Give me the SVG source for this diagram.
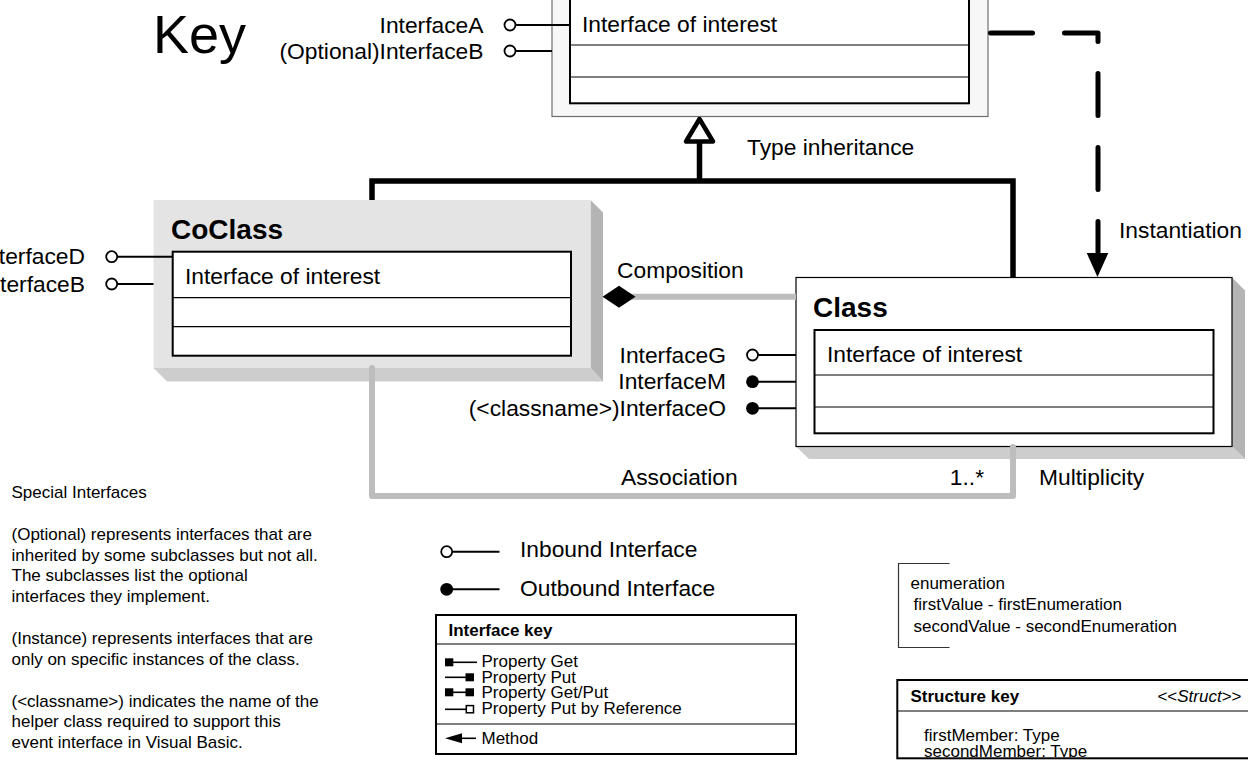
<svg xmlns="http://www.w3.org/2000/svg" width="1248" height="768" viewBox="0 0 1248 768">
<defs>
<style>
text { font-family: "Liberation Sans", Arial, Helvetica, sans-serif; fill: #000; }
.lbl { font-size: 22.8px; }
.lblr { font-size: 22.8px; text-anchor: end; }
.title { font-size: 28px; font-weight: bold; }
.small { font-size: 17px; }
.smallb { font-size: 17px; font-weight: bold; }
.inner { fill: #fff; stroke: #000; stroke-width: 2; }
.div { stroke: #000; stroke-width: 1.2; fill: none; }
.lol { stroke: #000; stroke-width: 2; fill: none; }
.in { fill: #fff; stroke: #000; stroke-width: 1.8; }
.out { fill: #000; }
.shR { fill: #b4b4b4; }
.shB { fill: #cdcdcd; }
.gray { fill: none; stroke: #bdbdbd; stroke-width: 6; stroke-linecap: round; stroke-linejoin: round; }
.thick { fill: none; stroke: #000; stroke-width: 5.5; stroke-linejoin: miter; }
.sq { fill: #000; }
.thin { stroke: #000; stroke-width: 1.6; fill: none; }
</style>
<clipPath id="structClip"><rect x="898" y="681" width="360" height="76.3"/></clipPath>
</defs>
<rect x="0" y="0" width="1248" height="768" fill="#fff"/>

<g id="key-title">
<text x="153" y="53" style="font-size:54px">Key</text>
</g>

<g id="abstract-class">
<rect x="552" y="-40" width="436" height="156.5" fill="#f7f7f7" stroke="#6e6e6e" stroke-width="1.2"/>
<rect class="inner" x="570" y="-30" width="399" height="133.3"/>
<line class="div" x1="570" y1="45" x2="969" y2="45"/>
<line class="div" x1="570" y1="77" x2="969" y2="77"/>
<text class="lbl" x="582" y="31.5">Interface of interest</text>
<line class="lol" x1="516" y1="25" x2="570" y2="25"/>
<circle class="in" cx="510" cy="25" r="5.5"/>
<text class="lblr" x="483.5" y="32.5">InterfaceA</text>
<line class="lol" x1="516" y1="51" x2="552" y2="51"/>
<circle class="in" cx="510" cy="51" r="5.5"/>
<text class="lblr" x="483.5" y="58.5">(Optional)InterfaceB</text>
</g>

<g id="coclass">
<polygon class="shR" points="590.5,200 603,212.5 603,381.5 590.5,368"/>
<polygon class="shB" points="153.5,368 167,381.5 603,381.5 590.5,368"/>
<rect x="153.5" y="200" width="437" height="168" fill="#e4e4e4"/>
<text class="title" x="171" y="238.5">CoClass</text>
<rect class="inner" x="172.7" y="251.7" width="398.3" height="104"/>
<line class="div" x1="172.7" y1="297.7" x2="571" y2="297.7"/>
<line class="div" x1="172.7" y1="326.7" x2="571" y2="326.7"/>
<text class="lbl" x="185" y="283.5">Interface of interest</text>
<line class="lol" x1="117.5" y1="256.7" x2="172.7" y2="256.7"/>
<circle class="in" cx="111.7" cy="256.7" r="5.5"/>
<text class="lblr" x="85" y="264.2">InterfaceD</text>
<line class="lol" x1="117.5" y1="284" x2="153.5" y2="284"/>
<circle class="in" cx="111.7" cy="284" r="5.5"/>
<text class="lblr" x="85" y="291.5">InterfaceB</text>
</g>

<g id="class">
<polygon class="shR" points="1232,277.5 1245,290.5 1245,459 1232,446.5"/>
<polygon class="shB" points="796,446.5 809,459 1245,459 1232,446.5"/>
<rect x="796" y="277.5" width="436" height="169" fill="#fff" stroke="#000" stroke-width="1.2"/>
<text class="title" x="813" y="317">Class</text>
<rect class="inner" x="814.5" y="330" width="399" height="103.3"/>
<line class="div" x1="814.5" y1="375" x2="1213.5" y2="375"/>
<line class="div" x1="814.5" y1="407" x2="1213.5" y2="407"/>
<text class="lbl" x="827" y="362">Interface of interest</text>
<line class="lol" x1="758.5" y1="355" x2="796" y2="355"/>
<circle class="in" cx="752.5" cy="355" r="5.5"/>
<text class="lblr" x="726" y="362.5">InterfaceG</text>
<line class="lol" x1="752.5" y1="381.7" x2="796" y2="381.7"/>
<circle class="out" cx="752.5" cy="381.7" r="6.4"/>
<text class="lblr" x="726" y="389">InterfaceM</text>
<line class="lol" x1="752.5" y1="408.3" x2="796" y2="408.3"/>
<circle class="out" cx="752.5" cy="408.3" r="6.4"/>
<text class="lblr" x="726" y="415.5">(&lt;classname&gt;)InterfaceO</text>
</g>

<g id="connectors">
<path class="thick" d="M372,200 V181 H1013 V277.5"/>
<line x1="699.5" y1="181" x2="699.5" y2="141" stroke="#000" stroke-width="5.5"/>
<polygon points="699.5,119 686,141.5 713,141.5" fill="#fff" stroke="#000" stroke-width="4.5" stroke-linejoin="round"/>
<text class="lbl" x="747" y="155">Type inheritance</text>
<path d="M990.5,33 H1098 V255" fill="none" stroke="#000" stroke-width="5" stroke-linecap="round" stroke-linejoin="round" stroke-dasharray="42 32"/>
<polygon points="1086.7,253 1108.3,253 1097.5,277" fill="#000"/>
<text class="lbl" x="1119" y="238">Instantiation</text>
<line x1="630" y1="296.7" x2="796" y2="296.7" stroke="#bdbdbd" stroke-width="6"/>
<polygon points="602.5,296.7 619,285.7 635.5,296.7 619,307.7" fill="#000"/>
<text class="lbl" x="617" y="277.5">Composition</text>
<path class="gray" d="M372,368 V496 H1013 V447"/>
<text class="lbl" x="621" y="485">Association</text>
<text class="lblr" x="984" y="485">1..*</text>
<text class="lbl" x="1039" y="485">Multiplicity</text>
</g>

<g id="notes">
<text class="small" x="11.5" y="498">Special Interfaces</text>
<text class="small" x="11.5" y="540">(Optional) represents interfaces that are</text>
<text class="small" x="11.5" y="560.7">inherited by some subclasses but not all.</text>
<text class="small" x="11.5" y="581.4">The subclasses list the optional</text>
<text class="small" x="11.5" y="602">interfaces they implement.</text>
<text class="small" x="11.5" y="644">(Instance) represents interfaces that are</text>
<text class="small" x="11.5" y="664.7">only on specific instances of the class.</text>
<text class="small" x="11.5" y="706.5">(&lt;classname&gt;) indicates the name of the</text>
<text class="small" x="11.5" y="727.2">helper class required to support  this</text>
<text class="small" x="11.5" y="748">event interface in Visual Basic.</text>
</g>

<g id="interface-legend">
<line class="lol" x1="452.5" y1="551.7" x2="499.5" y2="551.7"/>
<circle class="in" cx="446.7" cy="551.7" r="5.5"/>
<text class="lbl" x="520" y="557">Inbound Interface</text>
<line class="lol" x1="446.7" y1="589.3" x2="499.5" y2="589.3"/>
<circle class="out" cx="446.7" cy="589.3" r="6.4"/>
<text class="lbl" x="520" y="595.5">Outbound Interface</text>
</g>

<g id="interface-key">
<rect x="436" y="615" width="360" height="139" fill="#fff" stroke="#000" stroke-width="2"/>
<line class="div" x1="436" y1="644" x2="796" y2="644"/>
<line class="div" x1="436" y1="724" x2="796" y2="724"/>
<text class="smallb" x="448.5" y="636">Interface key</text>
<rect class="sq" x="445" y="658.3" width="8.3" height="8"/>
<line class="thin" x1="453" y1="662.3" x2="477" y2="662.3"/>
<text class="small" x="481.5" y="667">Property Get</text>
<line class="thin" x1="445" y1="677.3" x2="466" y2="677.3"/>
<rect class="sq" x="465.5" y="673.3" width="8.5" height="8"/>
<text class="small" x="481.5" y="683">Property Put</text>
<rect class="sq" x="445" y="688.3" width="8.3" height="8"/>
<line class="thin" x1="453" y1="692.3" x2="466" y2="692.3"/>
<rect class="sq" x="465.5" y="688.3" width="8.5" height="8"/>
<text class="small" x="481.5" y="698">Property Get/Put</text>
<line class="thin" x1="445" y1="709.3" x2="466" y2="709.3"/>
<rect x="466.3" y="705.6" width="7.2" height="7.2" fill="#fff" stroke="#000" stroke-width="1.5"/>
<text class="small" x="481.5" y="714.3">Property Put by Reference</text>
<polygon points="445,738.3 462,733.3 462,743.3" fill="#000"/>
<line class="thin" x1="461" y1="738.3" x2="476" y2="738.3"/>
<text class="small" x="481.5" y="743.5">Method</text>
</g>

<g id="enumeration">
<polyline points="949.5,563.5 898.5,563.5 898.5,647.5 949.5,647.5" fill="none" stroke="#333" stroke-width="1.2"/>
<text class="small" x="910.5" y="589.3">enumeration</text>
<text class="small" x="913.5" y="610">firstValue - firstEnumeration</text>
<text class="small" x="913.5" y="631.7">secondValue - secondEnumeration</text>
</g>

<g id="structure-key">
<rect x="897.3" y="680" width="362" height="78.3" fill="#fff"/>
<line class="div" x1="897.3" y1="711" x2="1248" y2="711"/>
<text class="smallb" x="910.5" y="701.7">Structure key</text>
<text class="small" x="1241.5" y="701.7" text-anchor="end">&lt;&lt;<tspan font-style="italic">Struct</tspan>&gt;&gt;</text>
<g clip-path="url(#structClip)">
<text class="small" x="924" y="740.7">firstMember: Type</text>
<text class="small" x="924" y="756.5">secondMember: Type</text>
</g>
<rect x="897.3" y="680" width="362" height="78.3" fill="none" stroke="#000" stroke-width="2"/>
</g>
</svg>
